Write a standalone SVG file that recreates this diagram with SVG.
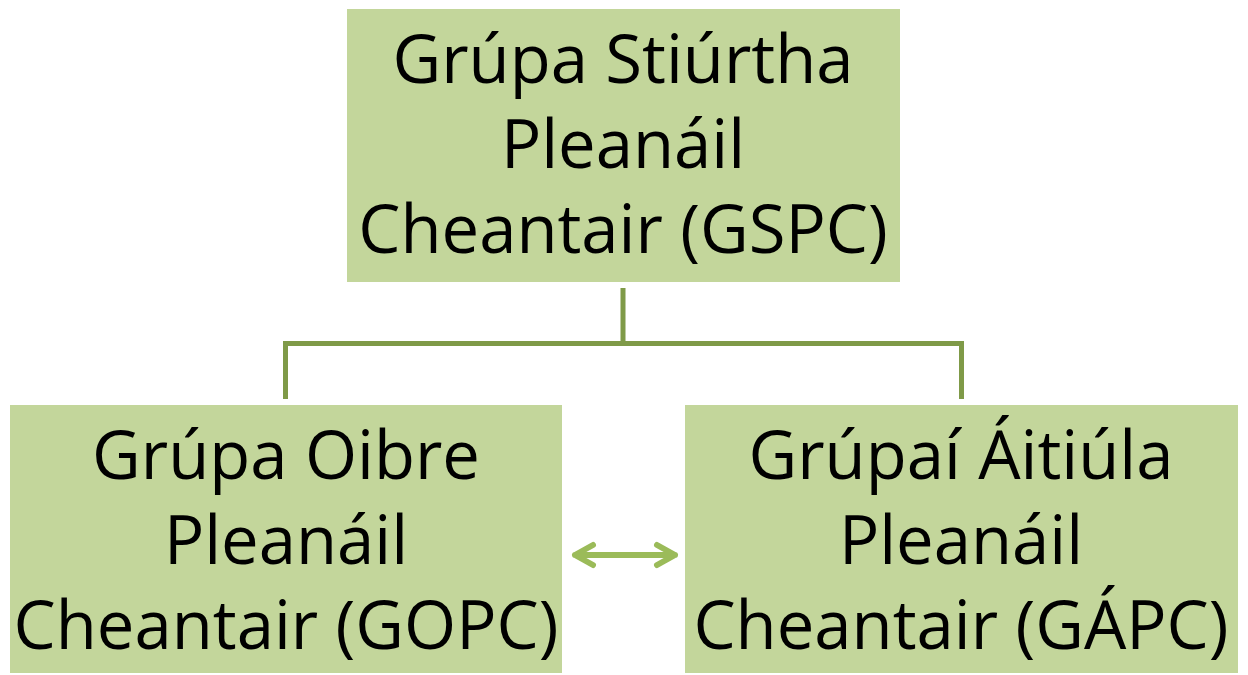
<svg xmlns="http://www.w3.org/2000/svg" width="1248" height="675" viewBox="0 0 1248 675">
<style>
.box{fill:#C3D69B;}
.t{font-family:"Open Sans","Liberation Sans",sans-serif;font-size:67px;fill:#000;text-anchor:middle;}
.conn{fill:none;stroke:#7F9A48;stroke-width:5;}
.arr{fill:none;stroke:#9BBB59;stroke-width:6;stroke-linecap:round;stroke-linejoin:round;}
</style>
<rect width="1248" height="675" fill="#fff"/>
<g id="connectors">
<path class="conn" d="M623,288 V343.5 M285.5,399 V343.5 H961.5 V399"/>
<path class="arr" d="M575,555 H675 M593,545 L575,555 L593,565 M657,545 L675,555 L657,565"/>
</g>
<g id="gspc">
<rect class="box" x="347" y="9" width="553" height="273"/>
<text class="t" x="623" y="83">Grúpa Stiúrtha</text>
<text class="t" x="623" y="168">Pleanáil</text>
<text class="t" x="623" y="253">Cheantair (GSPC)</text>
</g>
<g id="gopc">
<rect class="box" x="10" y="405" width="552" height="268"/>
<text class="t" x="286" y="479">Grúpa Oibre</text>
<text class="t" x="286" y="564">Pleanáil</text>
<text class="t" x="286" y="649">Cheantair (GOPC)</text>
</g>
<g id="gapc">
<rect class="box" x="685" y="405" width="553" height="268"/>
<text class="t" x="961" y="479">Grúpaí Áitiúla</text>
<text class="t" x="961" y="564">Pleanáil</text>
<text class="t" x="961" y="649">Cheantair (GÁPC)</text>
</g>
</svg>
